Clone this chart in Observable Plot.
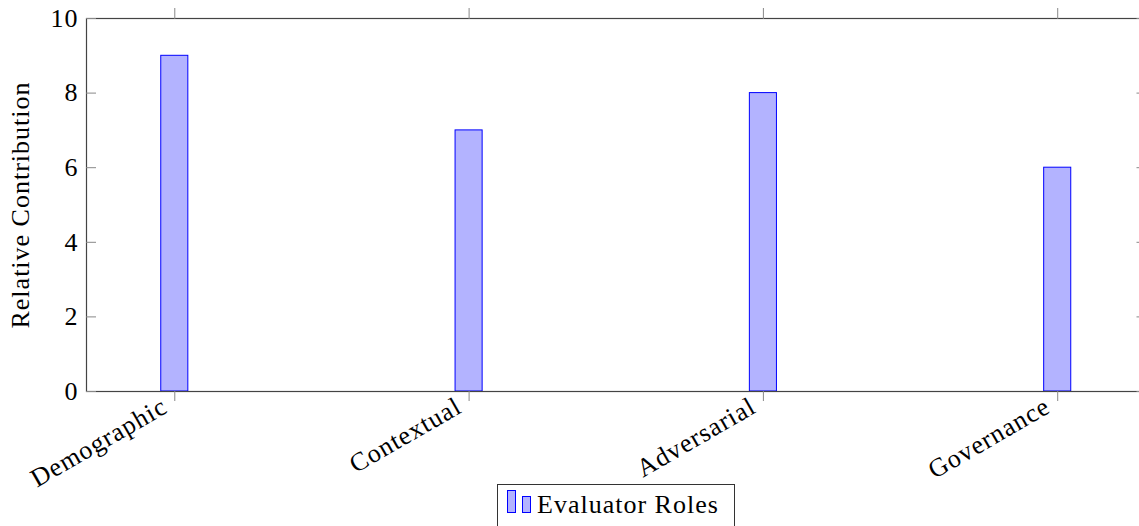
<!DOCTYPE html>
<html>
<head>
<meta charset="utf-8">
<script src="https://cdn.jsdelivr.net/npm/d3@7"></script>
<script src="https://cdn.jsdelivr.net/npm/@observablehq/plot@0.6"></script>
<style>
  html, body { margin: 0; padding: 0; background: #fff; overflow: hidden; }
  #wrap { position: relative; width: 1139px; height: 526px; overflow: hidden; }
  #legend { position: absolute; left: 497px; top: 484px; width: 238px; height: 50px;
    border: 1px solid #333; background: #fff; font-family: "Liberation Serif", serif; font-size: 26px;
    letter-spacing: 1px; box-sizing: border-box; }
  #legend svg { position: absolute; left: 0; top: 0; }
  #legend span { position: absolute; left: 39px; top: 5px; white-space: nowrap; }
</style>
</head>
<body>
<div id="wrap"></div>
<script>
const categories = ["Demographic", "Contextual", "Adversarial", "Governance"];
const values = [9, 7, 8, 6];
const yTicks = [0, 2, 4, 6, 8, 10];
const seriesName = "Evaluator Roles";

const data = categories.map((c, i) => ({category: c, value: values[i]}));
const font = "Liberation Serif, serif";
const none = () => "";

const chart = Plot.plot({
  width: 1139,
  height: 484,
  marginLeft: 86,
  marginRight: -6.5,
  marginTop: 18,
  marginBottom: 93,
  style: {fontFamily: font, fontSize: "26px", letterSpacing: "1px", background: "transparent", overflow: "visible"},
  x: {type: "band", domain: categories, paddingInner: 0.908, paddingOuter: 0.254, round: false},
  y: {domain: [0, 10]},
  marks: [
    Plot.barY(data, {x: "category", y: "value", fill: "#b3b3ff", stroke: "#0000ff", strokeWidth: 1}),
    Plot.frame({stroke: "#444", strokeWidth: 1.2}),
    Plot.axisY({anchor: "left", ticks: yTicks, tickSize: -10, tickFormat: none, stroke: "#888", label: null}),
    Plot.axisY({anchor: "right", ticks: yTicks, tickSize: -10, tickFormat: none, stroke: "#888", label: null}),
    Plot.axisY({anchor: "left", ticks: yTicks, tickSize: 0, tickPadding: 8, fill: "#000", fontSize: 26,
      label: "Relative Contribution", labelAnchor: "center", labelArrow: "none", labelOffset: 76}),
    Plot.axisX({anchor: "top", tickSize: 11, tickFormat: none, stroke: "#888", label: null}),
    Plot.axisX({anchor: "bottom", tickSize: 10, tickFormat: none, stroke: "#888", label: null}),
    Plot.axisX({anchor: "bottom", tickSize: 0, tickPadding: 10, tickRotate: -30, textAnchor: "end", lineAnchor: "top", dx: -15, dy: -6, fill: "#000", fontSize: 26, label: null})
  ]
});
document.getElementById("wrap").appendChild(chart);

const legend = document.createElement("div");
legend.id = "legend";
legend.innerHTML = `<svg width="40" height="40">
  <rect x="9.5" y="5.5" width="8" height="22" fill="#b3b3ff" stroke="#0000ff"/>
  <rect x="24.5" y="11.5" width="8" height="16" fill="#b3b3ff" stroke="#0000ff"/>
</svg><span>${seriesName}</span>`;
document.getElementById("wrap").appendChild(legend);
</script>
</body>
</html>
